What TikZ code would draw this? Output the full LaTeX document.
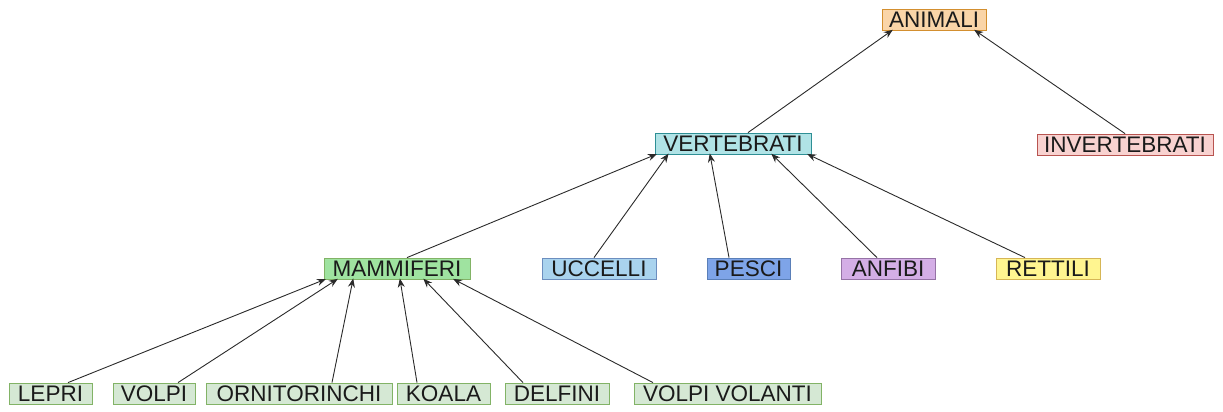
\documentclass[tikz,border=0pt]{standalone}
\usepackage{fontspec}
\setmainfont{Liberation Sans}
\usetikzlibrary{arrows.meta}
\definecolor{txt}{HTML}{1A1A1A}
\definecolor{ln}{HTML}{2A2A2A}
\definecolor{orF}{HTML}{FAD5A8}\definecolor{orD}{HTML}{D38F2F}
\definecolor{rdF}{HTML}{F8D2D0}\definecolor{rdD}{HTML}{B85450}
\definecolor{cyF}{HTML}{B0E3E6}\definecolor{cyD}{HTML}{2E8F95}
\definecolor{gnF}{HTML}{9FE3A0}\definecolor{gnD}{HTML}{82B366}
\definecolor{buF}{HTML}{A9D3EE}\definecolor{buD}{HTML}{6C8EBF}
\definecolor{dbF}{HTML}{7EA4E8}\definecolor{dbD}{HTML}{5A7FB8}
\definecolor{ppF}{HTML}{D4AEE6}\definecolor{ppD}{HTML}{9673A6}
\definecolor{ylF}{HTML}{FFF590}\definecolor{ylD}{HTML}{D6B656}
\definecolor{lgF}{HTML}{D5E8D4}\definecolor{lgD}{HTML}{82B366}
\begin{document}
\begin{tikzpicture}[x=1pt,y=-1pt,
  box/.style={draw=#1D,fill=#1F,line width=0.8pt,inner sep=0pt,minimum height=21pt,
     text=txt,font=\fontsize{22.5}{24}\selectfont,anchor=center},
  conn/.style={draw=ln,line width=0.9pt,-{Stealth[length=9pt,width=7pt]},shorten >=-1pt}]
\useasboundingbox (0,0) rectangle (1223,412);
\node[box=or,minimum width=104pt] (anim) at (934,19.5) {ANIMALI};
\node[box=rd,minimum width=176pt] (inv) at (1125,144.5) {INVERTEBRATI};
\node[box=cy,minimum width=156pt] (vert) at (733,143.5) {VERTEBRATI};
\node[box=gn,minimum width=146pt] (mam) at (397,268.5) {MAMMIFERI};
\node[box=bu,minimum width=114pt] (ucc) at (599,268.5) {UCCELLI};
\node[box=db,minimum width=83pt] (pes) at (748.5,268.5) {PESCI};
\node[box=pp,minimum width=94pt] (anf) at (888,268.5) {ANFIBI};
\node[box=yl,minimum width=104pt] (ret) at (1048,268.5) {RETTILI};
\node[box=lg,minimum width=83pt] (lep) at (50.5,393.5) {LEPRI};
\node[box=lg,minimum width=82pt] (vol) at (154,393.5) {VOLPI};
\node[box=lg,minimum width=186pt] (orn) at (299,393.5) {ORNITORINCHI};
\node[box=lg,minimum width=93pt] (koa) at (443.5,393.5) {KOALA};
\node[box=lg,minimum width=104pt] (del) at (557,393.5) {DELFINI};
\node[box=lg,minimum width=187pt] (vv) at (727.5,393.5) {VOLPI VOLANTI};
\draw[conn] ([xshift=15pt]vert.north) -- ([xshift=-42pt]anim.south);
\draw[conn] (inv.north) -- ([xshift=41pt]anim.south);
\draw[conn] ([xshift=10pt]mam.north) -- ([xshift=-77pt]vert.south);
\draw[conn] ([xshift=-5pt]ucc.north) -- ([xshift=-65pt]vert.south);
\draw[conn] ([xshift=-19.5pt]pes.north) -- ([xshift=-23pt]vert.south);
\draw[conn] ([xshift=-11pt]anf.north) -- ([xshift=39pt]vert.south);
\draw[conn] ([xshift=-23pt]ret.north) -- ([xshift=75pt]vert.south);
\draw[conn] ([xshift=17.5pt]lep.north) -- ([xshift=-72pt]mam.south);
\draw[conn] ([xshift=24pt]vol.north) -- ([xshift=-60pt]mam.south);
\draw[conn] ([xshift=33pt]orn.north) -- ([xshift=-44pt]mam.south);
\draw[conn] ([xshift=-26.5pt]koa.north) -- ([xshift=3pt]mam.south);
\draw[conn] ([xshift=-34pt]del.north) -- ([xshift=27pt]mam.south);
\draw[conn] ([xshift=-74.5pt]vv.north) -- ([xshift=57pt]mam.south);
\end{tikzpicture}
\end{document}
